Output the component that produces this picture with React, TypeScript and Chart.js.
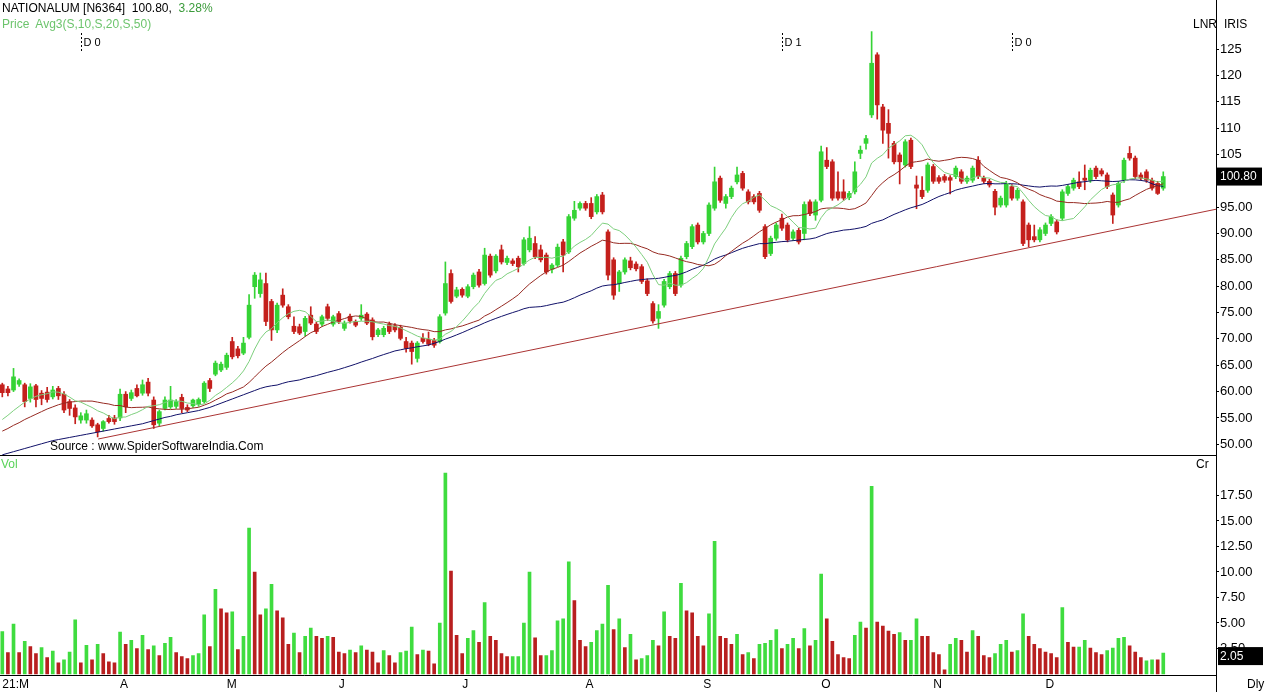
import React, { useEffect, useRef } from 'react';
import { Chart, registerables } from 'chart.js';

Chart.register(...registerables);

// ---------- data ----------
const symbolName = 'NATIONALUM';
const symbolCode = 'N6364';
const lastPrice = 100.8;
const changePct = 3.28;
const lastVolume = 2.05;

const opens = [
  61.3, 60.5, 60.3, 61.4, 61.3, 58.7, 61.1, 59.7, 59.9, 59.0,
  60.6, 59.5, 58.1, 56.9, 54.6, 54.6, 54.6, 53.7, 53.0, 54.9,
  55.0, 55.0, 59.5, 58.7, 60.6, 59.7, 61.8, 58.4, 54.0, 56.8,
  57.1, 57.2, 58.9, 57.0, 57.3, 57.6, 58.1, 62.1, 63.3, 64.1,
  64.6, 69.5, 68.1, 67.3, 70.3, 79.9, 78.6, 80.5, 77.1, 71.7,
  78.3, 76.1, 72.4, 72.3, 71.4, 74.5, 72.8, 72.8, 76.1, 72.8,
  74.8, 72.0, 74.3, 73.3, 73.9, 74.7, 73.6, 70.8, 70.8, 72.8,
  72.5, 72.2, 69.5, 69.2, 66.3, 70.1, 69.9, 69.7, 69.5, 74.9,
  82.4, 78.1, 79.4, 78.1, 79.9, 82.7, 80.5, 85.7, 82.9, 86.9,
  84.5, 84.8, 85.3, 84.3, 86.9, 88.1, 86.9, 85.9, 83.2, 84.0,
  88.4, 86.5, 92.9, 94.8, 95.7, 95.7, 94.1, 97.3, 90.3, 85.0,
  80.5, 82.7, 84.8, 84.2, 83.7, 81.0, 76.7, 73.9, 76.4, 79.9,
  82.4, 80.2, 85.6, 87.5, 91.6, 88.4, 90.0, 94.8, 100.5, 95.7,
  97.0, 99.8, 101.4, 97.9, 97.0, 97.6, 91.3, 86.2, 89.1, 92.9,
  91.6, 89.1, 90.6, 90.0, 96.0, 93.5, 96.3, 103.9, 103.6, 97.9,
  97.9, 96.8, 97.9, 105.2, 107.1, 112.5, 123.9, 114.0, 110.9, 107.1,
  104.9, 103.0, 107.7, 99.2, 98.2, 98.2, 102.7, 100.6, 100.8, 100.6,
  100.8, 101.7, 99.9, 100.1, 103.9, 100.5, 99.9, 98.0, 95.4, 95.4,
  98.9, 96.7, 96.0, 91.6, 89.4, 88.8, 90.0, 91.9, 92.2, 92.9,
  97.6, 98.6, 99.8, 100.5, 100.1, 102.4, 101.9, 101.1, 97.3, 95.4,
  100.1, 105.2, 104.3, 101.1, 101.7, 100.1, 99.5, 98.6,
];

const highs = [
  61.6, 61.0, 64.4, 62.4, 61.6, 61.5, 61.4, 60.2, 60.8, 61.0,
  61.0, 60.0, 58.5, 57.5, 56.0, 56.5, 55.0, 54.0, 54.5, 55.5,
  55.5, 60.5, 60.0, 60.3, 61.3, 62.2, 62.5, 59.0, 56.5, 59.0,
  61.0, 58.5, 59.5, 57.5, 58.6, 58.8, 61.9, 62.5, 65.8, 65.6,
  67.3, 70.3, 68.6, 70.3, 78.4, 82.6, 82.5, 82.5, 77.5, 76.8,
  79.5, 76.5, 74.2, 72.8, 74.3, 76.1, 73.2, 74.5, 76.6, 74.5,
  75.2, 73.4, 74.7, 73.6, 76.5, 75.0, 74.0, 72.0, 72.4, 73.2,
  72.9, 72.6, 70.3, 69.6, 69.5, 71.0, 71.3, 70.1, 74.6, 84.6,
  83.1, 79.8, 79.7, 80.3, 82.5, 83.2, 87.2, 86.1, 86.0, 87.8,
  85.7, 85.2, 85.7, 89.2, 91.3, 89.4, 87.8, 86.3, 84.3, 88.0,
  88.9, 93.6, 96.1, 96.0, 96.1, 96.8, 97.4, 97.8, 90.7, 85.4,
  83.0, 85.4, 85.5, 84.6, 84.1, 81.4, 77.1, 76.5, 81.3, 82.8,
  82.8, 85.7, 88.5, 91.7, 92.0, 90.4, 95.8, 102.6, 100.9, 97.4,
  99.0, 102.6, 101.8, 98.3, 97.4, 98.0, 91.7, 89.5, 92.0, 93.7,
  92.0, 90.7, 91.0, 96.0, 96.4, 96.4, 106.6, 106.3, 104.0, 101.7,
  100.2, 98.0, 103.6, 106.6, 108.6, 128.3, 124.3, 114.5, 113.5, 107.5,
  105.3, 107.8, 108.1, 100.9, 100.8, 103.4, 103.1, 101.0, 101.2, 101.0,
  102.8, 102.1, 100.9, 102.8, 104.6, 100.9, 100.3, 98.4, 97.1, 99.9,
  99.3, 98.6, 96.4, 92.0, 91.6, 91.1, 92.0, 93.6, 92.6, 98.3,
  99.3, 100.5, 101.7, 103.0, 102.4, 102.8, 102.3, 101.5, 97.7, 99.9,
  104.3, 106.5, 104.7, 101.5, 102.1, 100.5, 99.9, 101.7,
];

const lows = [
  59.0, 59.2, 60.0, 61.0, 57.1, 58.0, 57.1, 57.5, 58.0, 58.6,
  58.5, 56.0, 55.5, 53.9, 54.0, 54.0, 53.2, 51.4, 52.5, 54.0,
  53.8, 54.5, 56.0, 58.3, 59.0, 59.3, 59.2, 53.0, 53.5, 56.5,
  56.8, 56.8, 56.0, 56.2, 57.0, 57.2, 57.8, 60.0, 63.0, 63.8,
  64.2, 66.2, 66.4, 67.0, 70.0, 77.7, 77.9, 72.5, 69.7, 71.2,
  76.0, 73.8, 71.0, 70.8, 70.5, 72.7, 71.0, 72.4, 73.5, 72.4,
  72.9, 71.6, 73.0, 72.3, 73.5, 72.7, 69.8, 70.4, 70.4, 71.0,
  71.3, 69.8, 67.5, 65.2, 65.6, 69.2, 68.7, 68.4, 69.2, 74.5,
  76.8, 77.8, 77.9, 77.8, 79.5, 79.8, 80.2, 81.7, 82.5, 84.2,
  84.1, 83.9, 82.7, 84.0, 86.5, 85.2, 84.6, 82.3, 82.5, 83.7,
  82.7, 86.2, 92.5, 94.4, 94.4, 92.8, 93.7, 93.7, 81.2, 77.5,
  79.0, 82.3, 83.1, 82.9, 80.5, 78.2, 73.0, 72.0, 76.0, 79.5,
  78.2, 79.8, 85.2, 87.1, 88.0, 88.0, 89.6, 94.4, 95.9, 94.8,
  96.6, 99.4, 98.2, 95.6, 95.6, 94.0, 85.2, 85.8, 88.7, 90.6,
  88.4, 88.7, 88.0, 88.8, 93.4, 92.5, 96.0, 102.3, 96.3, 96.3,
  96.3, 96.4, 97.5, 104.2, 106.0, 112.0, 111.7, 107.1, 104.3, 103.2,
  99.4, 102.6, 102.3, 94.7, 96.6, 97.8, 99.5, 99.5, 99.7, 97.5,
  100.4, 99.5, 99.5, 99.7, 100.4, 99.5, 98.8, 93.5, 95.0, 95.0,
  96.3, 96.3, 87.7, 87.5, 88.4, 88.4, 89.6, 91.5, 89.9, 92.5,
  97.2, 98.2, 98.5, 98.3, 99.7, 100.4, 100.9, 98.5, 91.9, 95.0,
  99.7, 103.9, 100.4, 100.1, 99.7, 98.2, 97.4, 98.2,
];

const closes = [
  59.8, 59.8, 62.8, 62.1, 58.1, 60.9, 58.5, 58.7, 58.5, 60.3,
  59.2, 56.5, 56.8, 55.2, 55.4, 55.8, 53.5, 52.4, 54.3, 54.3,
  54.3, 59.5, 57.1, 59.8, 59.2, 61.3, 59.7, 53.7, 56.2, 58.4,
  58.4, 58.1, 56.8, 56.5, 58.4, 58.5, 61.6, 60.6, 65.4, 65.2,
  66.9, 66.6, 66.8, 69.2, 76.4, 82.1, 81.2, 73.3, 71.7, 76.4,
  76.4, 74.2, 71.4, 71.1, 73.9, 73.0, 71.4, 74.2, 73.9, 74.2,
  73.3, 73.0, 73.4, 72.6, 74.5, 73.0, 70.4, 71.7, 72.0, 71.4,
  71.7, 70.1, 68.2, 67.6, 69.2, 69.5, 69.0, 68.8, 74.2, 80.5,
  77.1, 79.3, 78.3, 79.9, 82.1, 80.2, 85.9, 82.1, 85.7, 84.6,
  85.3, 84.3, 83.7, 88.8, 89.1, 85.6, 85.0, 82.7, 84.0, 87.4,
  85.9, 93.2, 94.4, 95.7, 94.8, 93.2, 97.0, 94.1, 82.1, 78.3,
  82.7, 85.0, 83.5, 83.3, 80.9, 78.6, 73.4, 75.2, 80.9, 82.4,
  78.6, 85.3, 88.1, 91.3, 88.4, 90.0, 95.4, 99.8, 96.3, 97.0,
  98.6, 101.1, 98.6, 96.0, 96.0, 94.4, 85.6, 89.1, 91.6, 91.0,
  88.8, 90.3, 88.4, 95.5, 93.8, 96.0, 105.5, 102.7, 96.7, 96.7,
  96.7, 97.6, 101.7, 105.8, 108.0, 122.3, 114.4, 109.6, 109.0, 103.6,
  103.6, 107.4, 102.7, 98.6, 97.0, 103.0, 99.9, 99.9, 100.1, 100.1,
  102.4, 99.9, 100.5, 102.4, 100.8, 99.9, 99.2, 95.0, 96.7, 99.5,
  96.7, 98.2, 88.1, 88.8, 88.8, 90.7, 91.6, 93.2, 90.3, 97.9,
  98.9, 100.1, 98.9, 100.1, 102.0, 100.8, 101.3, 98.9, 93.5, 99.5,
  103.9, 104.3, 100.8, 100.5, 100.1, 98.6, 97.6, 100.8,
];

// volume in crores
const volumes = [
  4.15, 2.1, 4.9, 2.1, 3.2, 2.7, 2.0, 2.6, 1.6, 2.25,
  1.1, 1.4, 2.15, 5.3, 1.1, 2.8, 1.4, 2.9, 2.0, 1.2,
  1.1, 4.1, 2.9, 3.3, 2.5, 3.8, 2.4, 2.75, 1.8, 3.0,
  3.6, 2.1, 1.7, 1.5, 1.8, 2.0, 5.8, 2.7, 8.3, 6.4,
  6.0, 6.1, 2.4, 3.7, 14.3, 10.0, 5.8, 6.4, 8.8, 6.2,
  5.5, 2.9, 4.0, 2.1, 3.7, 4.5, 3.7, 3.5, 3.7, 3.6,
  2.15, 2.0, 2.35, 2.1, 2.75, 2.35, 2.15, 1.1, 2.3, 1.8,
  1.1, 2.1, 2.25, 4.6, 1.9, 2.35, 2.25, 1.0, 5.0, 19.7,
  10.1, 3.8, 2.0, 3.5, 4.25, 3.1, 7.0, 3.7, 3.3, 2.0,
  1.7, 1.7, 1.7, 5.0, 10.0, 3.55, 1.8, 1.8, 2.3, 5.2,
  5.4, 11.0, 7.2, 3.3, 2.7, 3.1, 4.25, 4.9, 8.7, 4.35,
  5.4, 2.6, 3.9, 1.4, 1.5, 1.8, 3.3, 2.75, 6.1, 3.7,
  3.5, 8.9, 6.2, 6.0, 3.7, 2.75, 5.9, 13.0, 3.7, 3.5,
  2.9, 3.9, 1.9, 2.1, 1.5, 2.9, 3.0, 3.3, 4.35, 2.5,
  2.9, 3.5, 2.5, 4.45, 2.75, 3.3, 9.8, 5.4, 3.2, 1.9,
  1.6, 1.5, 3.8, 5.1, 4.5, 18.4, 5.1, 4.7, 4.2, 3.9,
  4.05, 3.3, 3.3, 5.4, 3.7, 3.7, 2.1, 1.9, 0.4, 2.9,
  3.5, 3.3, 2.15, 4.25, 3.7, 1.8, 1.6, 2.0, 2.9, 3.3,
  2.15, 2.3, 5.9, 3.7, 2.9, 2.5, 2.15, 2.0, 1.6, 6.5,
  3.1, 2.65, 2.65, 3.3, 2.55, 2.1, 1.9, 2.3, 2.55, 3.5,
  3.6, 2.75, 2.15, 1.6, 1.3, 1.4, 1.4, 2.05,
];

// 1 = green volume bar, 0 = red volume bar
const volumeUp = [
  1, 0, 1, 0, 1, 0, 0, 1, 0, 1,
  0, 1, 1, 1, 0, 1, 0, 1, 0, 0,
  0, 1, 0, 1, 0, 1, 0, 1, 0, 1,
  1, 0, 0, 0, 1, 1, 1, 0, 1, 0,
  0, 1, 0, 1, 1, 0, 0, 1, 1, 0,
  0, 0, 1, 0, 1, 1, 0, 0, 1, 0,
  0, 0, 1, 0, 1, 0, 0, 0, 1, 0,
  0, 1, 1, 1, 0, 1, 0, 0, 1, 1,
  0, 0, 0, 1, 1, 0, 1, 0, 0, 0,
  0, 1, 1, 1, 1, 0, 0, 1, 1, 1,
  1, 1, 0, 0, 0, 1, 1, 1, 1, 0,
  1, 0, 1, 0, 1, 1, 1, 0, 1, 0,
  0, 1, 0, 0, 0, 0, 1, 1, 0, 0,
  0, 1, 0, 1, 0, 1, 1, 1, 1, 0,
  1, 1, 0, 1, 0, 1, 1, 0, 0, 0,
  0, 0, 1, 1, 0, 1, 0, 0, 0, 0,
  1, 0, 1, 1, 0, 0, 0, 0, 0, 1,
  1, 0, 0, 1, 0, 0, 0, 1, 1, 1,
  0, 1, 1, 0, 0, 0, 0, 0, 0, 1,
  0, 0, 1, 1, 0, 0, 0, 1, 1, 1,
  1, 0, 0, 0, 1, 1, 0, 1,
];

// moving-average values before a full window exists
const ma10Start = [54.7, 55.5, 56.4, 57.2, 58.0, 58.6, 59.1, 59.4, 59.6];
const ma20Start = [
  52.5, 53.0, 53.6, 54.1, 54.7, 55.2, 55.7, 56.2, 56.7, 57.1,
  57.5, 57.8, 58.0, 58.1, 58.2, 58.2, 58.2, 58.0, 57.8,
];
const ma50Start = [
  48.0, 48.3, 48.6, 48.9, 49.2, 49.5, 49.8, 50.1, 50.4, 50.7,
  50.9, 51.1, 51.3, 51.5, 51.7, 51.9, 52.1, 52.3, 52.5, 52.7,
  52.9, 53.1, 53.3, 53.5, 53.7, 53.9, 54.2, 54.5, 54.8, 55.1,
  55.3, 55.6, 55.8, 56.0, 56.2, 56.4, 56.7, 57.0, 57.4, 57.8,
  58.2, 58.6, 59.0, 59.4, 59.8, 60.2, 60.6, 60.9, 61.1,
];

const monthIdx = [0, 21, 40, 60, 82, 104, 125, 146, 166, 186];
const monthLabels = ['21:M', 'A', 'M', 'J', 'J', 'A', 'S', 'O', 'N', 'D'];
const priceTicks = [50, 55, 60, 65, 70, 75, 80, 85, 90, 95, 100, 105, 110, 115, 120, 125];
const volTicks = [2.5, 5, 7.5, 10, 12.5, 15, 17.5];
const trendIdx = [17.1, 216.4];
const trendPrice = [51.0, 94.6];
const dividendIdx = [14, 139, 180];
const dividendLabels = ['D 0', 'D 1', 'D 0'];

// ---------- style ----------
const FONT = "'Liberation Sans', Arial, sans-serif";
const GREEN = '#35d335';
const RED = '#c4201c';
const VGREEN = '#3fdc3f';
const VRED = '#b81f1f';
const MA10_COLOR = '#7dcf7d';
const MA20_COLOR = '#962a22';
const MA50_COLOR = '#101068';
const TREND_COLOR = '#aa3333';
const X_MIN = -0.41;
const X_MAX = 216.4;
const PRICE_MIN = 47.78;
const PRICE_MAX = 134.3;
const VOL_MIN = -0.147;
const VOL_MAX = 21.37;
const AXIS_W = 50;
const XAXIS_H = 16.5;

function sma(period: number, warm: number[]): number[] {
  return closes.map((_, i) => {
    if (i < period - 1) return warm[i];
    let s = 0;
    for (let k = i - period + 1; k <= i; k++) s += closes[k];
    return s / period;
  });
}

export default function App() {
  const priceRef = useRef<HTMLCanvasElement | null>(null);
  const volRef = useRef<HTMLCanvasElement | null>(null);

  useEffect(() => {
    if (!priceRef.current || !volRef.current) return;
    const n = closes.length;
    const idx = Array.from({ length: n }, (_, i) => i);
    const candleColors = idx.map((i) => (closes[i] >= opens[i] ? GREEN : RED));
    const volColors = volumeUp.map((u) => (u ? VGREEN : VRED));
    const ma10 = sma(10, ma10Start);
    const ma20 = sma(20, ma20Start);
    const ma50 = sma(50, ma50Start);

    const lineDs = (label: string, values: number[], color: string) => ({
      type: 'line',
      label,
      data: idx.map((i) => ({ x: i, y: values[i] })),
      borderColor: color,
      backgroundColor: color,
      borderWidth: 1,
      pointRadius: 0,
      pointHoverRadius: 0,
      tension: 0,
      fill: false,
      order: 0,
    });

    const priceDecor = {
      id: 'priceDecor',
      afterDraw(chart: any) {
        const { ctx, chartArea, scales } = chart;
        ctx.save();
        ctx.strokeStyle = '#000';
        ctx.lineWidth = 1;
        ctx.beginPath();
        ctx.moveTo(0, chartArea.bottom - 0.5);
        ctx.lineTo(chartArea.right, chartArea.bottom - 0.5);
        ctx.stroke();
        ctx.setLineDash([2, 2]);
        ctx.font = `11px ${FONT}`;
        ctx.fillStyle = '#000';
        ctx.textBaseline = 'top';
        ctx.textAlign = 'left';
        dividendIdx.forEach((d, k) => {
          const x = Math.round(scales.x.getPixelForValue(d)) + 0.5;
          ctx.beginPath();
          ctx.moveTo(x, 33);
          ctx.lineTo(x, 53);
          ctx.stroke();
          ctx.fillText(dividendLabels[k], x + 2, 37);
        });
        ctx.setLineDash([]);
        const y = scales.y.getPixelForValue(lastPrice);
        ctx.fillStyle = '#000';
        ctx.fillRect(chartArea.right + 1, y - 9, 45, 18);
        ctx.fillStyle = '#fff';
        ctx.font = `12px ${FONT}`;
        ctx.textBaseline = 'middle';
        ctx.fillText(lastPrice.toFixed(2), chartArea.right + 4, y + 0.5);
        ctx.restore();
      },
    };

    const volDecor = {
      id: 'volDecor',
      afterDraw(chart: any) {
        const { ctx, chartArea, scales } = chart;
        ctx.save();
        ctx.strokeStyle = '#000';
        ctx.lineWidth = 1;
        const ax = Math.round(chartArea.right) + 0.5;
        ctx.beginPath();
        ctx.moveTo(ax, 0);
        ctx.lineTo(ax, chart.height);
        ctx.stroke();
        const y = scales.y.getPixelForValue(lastVolume) + 3;
        ctx.fillStyle = '#000';
        ctx.fillRect(chartArea.right + 2, y - 9, 45, 18);
        ctx.fillStyle = '#fff';
        ctx.font = `12px ${FONT}`;
        ctx.textBaseline = 'middle';
        ctx.textAlign = 'left';
        ctx.fillText(lastVolume.toFixed(2), chartArea.right + 4, y + 0.5);
        ctx.restore();
      },
    };

    const tickFont = { family: FONT, size: 13 };

    const priceChart = new Chart(priceRef.current, {
      type: 'bar',
      data: {
        datasets: [
          lineDs('SMA 10', ma10, MA10_COLOR),
          lineDs('SMA 20', ma20, MA20_COLOR),
          lineDs('SMA 50', ma50, MA50_COLOR),
          {
            type: 'line',
            label: 'Trend',
            data: trendIdx.map((x, k) => ({ x, y: trendPrice[k] })),
            borderColor: TREND_COLOR,
            borderWidth: 1,
            pointRadius: 0,
            tension: 0,
            order: 0,
          },
          {
            type: 'bar',
            label: 'Body',
            data: idx.map((i) => ({ x: i, y: [Math.min(opens[i], closes[i]), Math.max(opens[i], closes[i])] })),
            backgroundColor: candleColors,
            barThickness: 4,
            minBarLength: 1,
            grouped: false,
            order: 1,
          },
          {
            type: 'bar',
            label: 'Wick',
            data: idx.map((i) => ({ x: i, y: [lows[i], highs[i]] })),
            backgroundColor: candleColors,
            barThickness: 1,
            grouped: false,
            order: 2,
          },
        ] as any,
      },
      options: {
        responsive: false,
        animation: false,
        devicePixelRatio: 1,
        events: [],
        layout: { padding: 0 },
        plugins: { legend: { display: false }, tooltip: { enabled: false } },
        scales: {
          x: { type: 'linear', min: X_MIN, max: X_MAX, offset: false, display: false },
          y: {
            type: 'linear',
            position: 'right',
            min: PRICE_MIN,
            max: PRICE_MAX,
            afterBuildTicks: (s: any) => {
              s.ticks = priceTicks.map((v) => ({ value: v }));
            },
            afterFit: (s: any) => {
              s.width = AXIS_W;
              s.paddingTop = 0;
              s.paddingBottom = 0;
            },
            grid: { drawOnChartArea: false, drawTicks: true, tickLength: 3, color: '#000', lineWidth: 1 },
            border: { display: true, color: '#000', width: 1 },
            ticks: {
              color: '#000',
              font: tickFont,
              padding: 1,
              autoSkip: false,
              callback: (v: any) => (Number(v) >= 105 ? String(v) : Number(v).toFixed(2)),
            },
          },
        },
      } as any,
      plugins: [priceDecor],
    });

    const volChart = new Chart(volRef.current, {
      type: 'bar',
      data: {
        datasets: [
          {
            label: 'Volume',
            data: idx.map((i) => ({ x: i, y: volumes[i] })),
            backgroundColor: volColors,
            barThickness: 3,
            grouped: false,
          },
        ] as any,
      },
      options: {
        responsive: false,
        animation: false,
        devicePixelRatio: 1,
        events: [],
        layout: { padding: 0 },
        plugins: { legend: { display: false }, tooltip: { enabled: false } },
        scales: {
          x: {
            type: 'linear',
            min: X_MIN,
            max: X_MAX,
            offset: false,
            position: 'bottom',
            afterBuildTicks: (s: any) => {
              s.ticks = monthIdx.map((v) => ({ value: v }));
            },
            afterFit: (s: any) => {
              s.height = XAXIS_H;
              s.paddingLeft = 0;
              s.paddingRight = 0;
            },
            grid: { display: false, drawTicks: false },
            border: { display: true, color: '#000', width: 1 },
            ticks: {
              color: '#000',
              font: { family: FONT, size: 12 },
              padding: 2,
              align: 'start',
              autoSkip: false,
              maxRotation: 0,
              minRotation: 0,
              callback: (_v: any, i: number) => monthLabels[i],
            },
          },
          y: {
            type: 'linear',
            position: 'right',
            min: VOL_MIN,
            max: VOL_MAX,
            afterBuildTicks: (s: any) => {
              s.ticks = volTicks.map((v) => ({ value: v }));
            },
            afterFit: (s: any) => {
              s.width = AXIS_W;
              s.paddingTop = 0;
              s.paddingBottom = 0;
            },
            grid: { drawOnChartArea: false, drawTicks: true, tickLength: 3, color: '#000', lineWidth: 1 },
            border: { display: true, color: '#000', width: 1 },
            ticks: {
              color: '#000',
              font: tickFont,
              padding: 1,
              autoSkip: false,
              callback: (v: any) => Number(v).toFixed(2),
            },
          },
        },
      } as any,
      plugins: [volDecor],
    });

    return () => {
      priceChart.destroy();
      volChart.destroy();
    };
  }, []);

  const txt: React.CSSProperties = {
    position: 'absolute',
    fontFamily: FONT,
    fontSize: 12,
    lineHeight: '14px',
    whiteSpace: 'pre',
    color: '#000',
  };

  return (
    <div
      style={{
        position: 'fixed',
        left: 0,
        top: 0,
        width: 1266,
        height: 692,
        background: '#fff',
        overflow: 'hidden',
      }}
    >
      <canvas ref={priceRef} width={1266} height={456} style={{ position: 'absolute', left: 0, top: 0 }} />
      <canvas ref={volRef} width={1266} height={236} style={{ position: 'absolute', left: 0, top: 456 }} />
      <div style={{ ...txt, left: 2, top: 1 }}>
        {`${symbolName} [${symbolCode}]  ${lastPrice.toFixed(2)},  `}
        <span style={{ color: '#3b9b3b' }}>{`${changePct.toFixed(2)}%`}</span>
      </div>
      <div style={{ ...txt, left: 2, top: 17, color: '#6cc46c' }}>{'Price  Avg3(S,10,S,20,S,50)'}</div>
      <div style={{ ...txt, left: 1193, top: 17 }}>LNR</div>
      <div style={{ ...txt, left: 1224, top: 17 }}>IRIS</div>
      <div style={{ ...txt, left: 50, top: 439 }}>{'Source : www.SpiderSoftwareIndia.Com'}</div>
      <div style={{ ...txt, left: 1, top: 457, color: '#5ad35a' }}>Vol</div>
      <div style={{ ...txt, left: 1196, top: 457 }}>Cr</div>
      <div style={{ ...txt, left: 1247, top: 677 }}>Dly</div>
    </div>
  );
}
